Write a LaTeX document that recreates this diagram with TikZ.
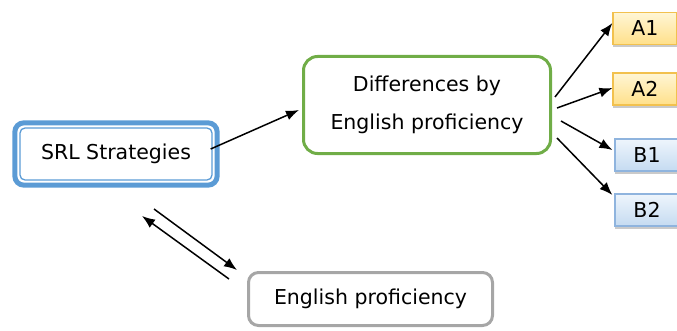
\documentclass[tikz,border=0pt]{standalone}
\usepackage{fontspec}
\setmainfont{DejaVu Sans}
\usetikzlibrary{arrows.meta,shadows}
\definecolor{srlblue}{HTML}{5B9BD5}
\definecolor{diffgreen}{HTML}{70AD47}
\definecolor{epgray}{HTML}{A6A6A6}
\definecolor{ytop}{HTML}{FFF6D5}
\definecolor{ybot}{HTML}{FFE08A}
\definecolor{yline}{HTML}{F2C14E}
\definecolor{btop}{HTML}{EEF5FC}
\definecolor{bbot}{HTML}{C5DBF1}
\definecolor{bline}{HTML}{8FB4DE}
\tikzset{
  x=1pt,y=1pt,
  txt/.style={font=\fontsize{20.5}{38}\selectfont, text=black, align=center, inner sep=0pt},
  lvl/.style={txt, minimum width=64, minimum height=32, line width=1.2,
    drop shadow={shadow xshift=0pt, shadow yshift=-2.5pt, fill=black!35, opacity=0.6}},
  lvlA/.style={lvl, draw=yline, top color=ytop, bottom color=ybot},
  lvlB/.style={lvl, draw=bline, top color=btop, bottom color=bbot},
  arr/.style={-{Latex[length=13pt,width=10pt]}, line width=1.5, black},
}
\begin{document}
\begin{tikzpicture}
\useasboundingbox (0,0) rectangle (677,330);
% SRL Strategies
\node[txt, draw=srlblue, line width=1.3, rounded corners=5, minimum width=192, minimum height=52] (srl) at (116,176) {SRL Strategies};
\draw[srlblue, line width=5, rounded corners=9] ([shift={(-4.5,4.5)}]srl.north west) rectangle ([shift={(4.5,-4.5)}]srl.south east);
% Differences
\node[txt, draw=diffgreen, line width=3, rounded corners=14, minimum width=247, minimum height=97] (diff) at (427,225) {Differences by\\English proficiency};
% English proficiency
\node[txt, draw=epgray, line width=3, rounded corners=10, minimum width=244, minimum height=53] (ep) at (370.5,31) {English proficiency};
% Levels
\node[lvlA] (a1) at (645,301.5) {A1};
\node[lvlA] (a2) at (645,241) {A2};
\node[lvlB] (b1) at (647,175) {B1};
\node[lvlB] (b2) at (647,120) {B2};
% Arrows
\draw[arr] ([shift={(-2,5)}]srl.east) -- ([shift={(-3,-5)}]diff.west);
\draw[arr] ([shift={(3,8)}]diff.east) -- ([shift={(0,5.5)}]a1.west);
\draw[arr] ([shift={(5,-3)}]diff.east) -- ([shift={(0,1)}]a2.west);
\draw[arr] ([shift={(9,-16)}]diff.east) -- ([shift={(-2,5)}]b1.west);
\draw[arr] ([shift={(5,-33)}]diff.east) -- ([shift={(-2,15)}]b2.west);
\coordinate (u1) at (229,51);
\coordinate (u2) at (142,114);
\coordinate (d1) at (154,121);
\coordinate (d2) at (237,60);
\draw[arr] (u1) -- (u2);
\draw[arr] (d1) -- (d2);
\end{tikzpicture}
\end{document}
